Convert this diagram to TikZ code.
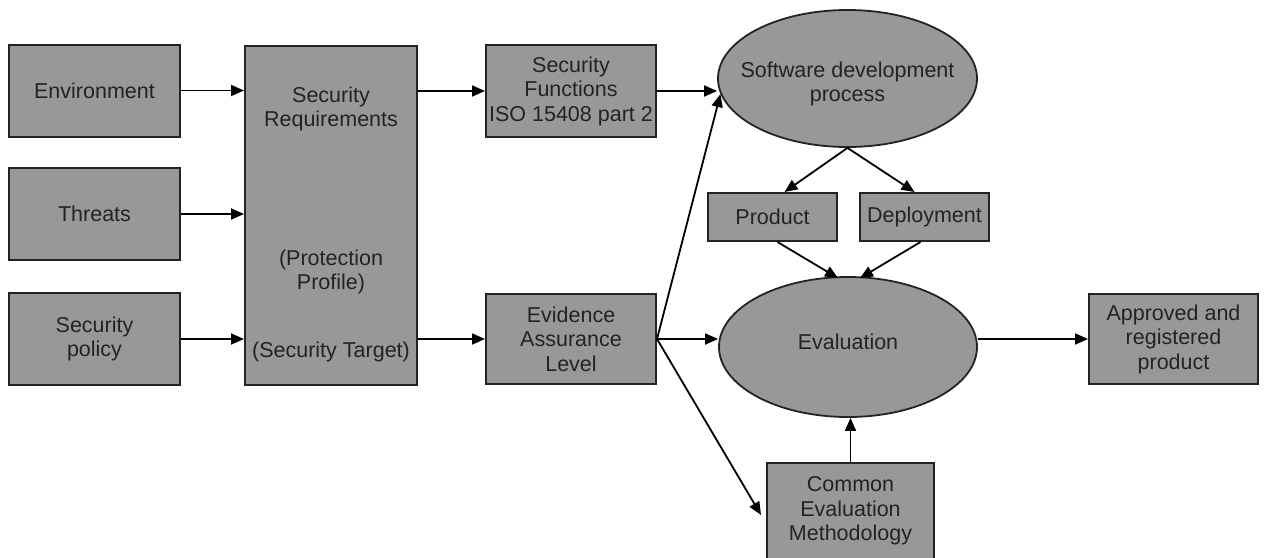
\documentclass[tikz,border=0pt]{standalone}
\usepackage{fontspec}
\setmainfont{Liberation Sans}
\usetikzlibrary{arrows.meta,shapes.geometric}
\definecolor{boxgray}{RGB}{152,152,152}
\definecolor{inkgray}{RGB}{35,35,35}
\begin{document}
\begin{tikzpicture}[x=1pt,y=-1pt,
  every node/.style={font=\fontsize{21.5}{24.5}\selectfont, text=inkgray, align=center, inner sep=0pt},
  gbox/.style={draw=inkgray, fill=boxgray, line width=2pt, rectangle},
  gell/.style={draw=inkgray, fill=boxgray, line width=1.8pt, ellipse},
  arr/.style={draw=black, line width=1.8pt, -{Triangle[length=13pt,width=11pt]}}
]
\useasboundingbox (0,0) rectangle (1266,557);
% left boxes
\node[gbox, minimum width=171, minimum height=92] (env) at (94.5,90.5) {Environment};
\node[gbox, minimum width=171, minimum height=92] (thr) at (94.5,214) {Threats};
\node[gbox, minimum width=171, minimum height=92] (pol) at (94.5,339) {Security\\policy};
% security requirements
\node[gbox, minimum width=172, minimum height=339] (sr) at (331,215.5) {};
\node (srt) at (331,109) {Security\\Requirements};
\node (pp) at (331,272) {(Protection\\Profile)};
\node (st) at (331,352) {(Security Target)};
% middle
\node[gbox, minimum width=170, minimum height=92] (sf) at (571,91) {Security\\Functions\\ISO 15408 part 2};
\node[gbox, minimum width=170, minimum height=90] (eal) at (571,339) {Evidence\\Assurance\\Level};
% ellipses
\node[gell, minimum width=259, minimum height=137] (sdp) at (847.5,78.5) {};
\node (sdpt) at (847.5,84) {Software development\\process};
\node[gell, minimum width=258, minimum height=140] (ev) at (848,347) {};
\node (evt) at (848,342) {Evaluation};
% product / deployment
\node[gbox, minimum width=129, minimum height=48] (prod) at (772.5,217) {Product};
\node[gbox, minimum width=129, minimum height=48] (dep) at (924.5,217) {Deployment};
% right and bottom
\node[gbox, minimum width=169, minimum height=90] (app) at (1173.5,339) {Approved and\\registered\\product};
\node[gbox, minimum width=167, minimum height=97] (cem) at (850.5,511.5) {\raisebox{1.5pt}{\begin{tabular}{@{}c@{}}Common\\Evaluation\\Methodology\end{tabular}}};
% connectors
\draw[arr] (env.east) -- (sr.west |- env.east);
\draw[arr] (thr.east) -- (sr.west |- thr.east);
\draw[arr] (pol.east) -- (sr.west |- pol.east);
\draw[arr] (sr.east |- sf.west) -- (sf.west);
\draw[arr] (sr.east |- eal.west) -- (eal.west);
\draw[arr] (sf.east) -- (sdp.west |- sf.east);
\draw[arr] (eal.east) -- (sdp.187);
\draw[arr] (eal.east) -- (ev.west |- eal.east);
\draw[arr] (eal.east) -- ([xshift=-5pt,yshift=-3.5pt]cem.west);
\draw[arr] (sdp.south) -- ([xshift=12pt]prod.north);
\draw[arr] (sdp.south) -- ([xshift=-10pt]dep.north);
\draw[arr] ([xshift=5pt]prod.south) -- ([xshift=-10pt,yshift=-2pt]ev.north);
\draw[arr] ([xshift=-4pt]dep.south) -- ([xshift=12pt,yshift=-2pt]ev.north);
\draw[arr] (cem.north) -- (ev.south -| cem.north);
\draw[arr] (ev.east |- app.west) -- (app.west);
\end{tikzpicture}
\end{document}
